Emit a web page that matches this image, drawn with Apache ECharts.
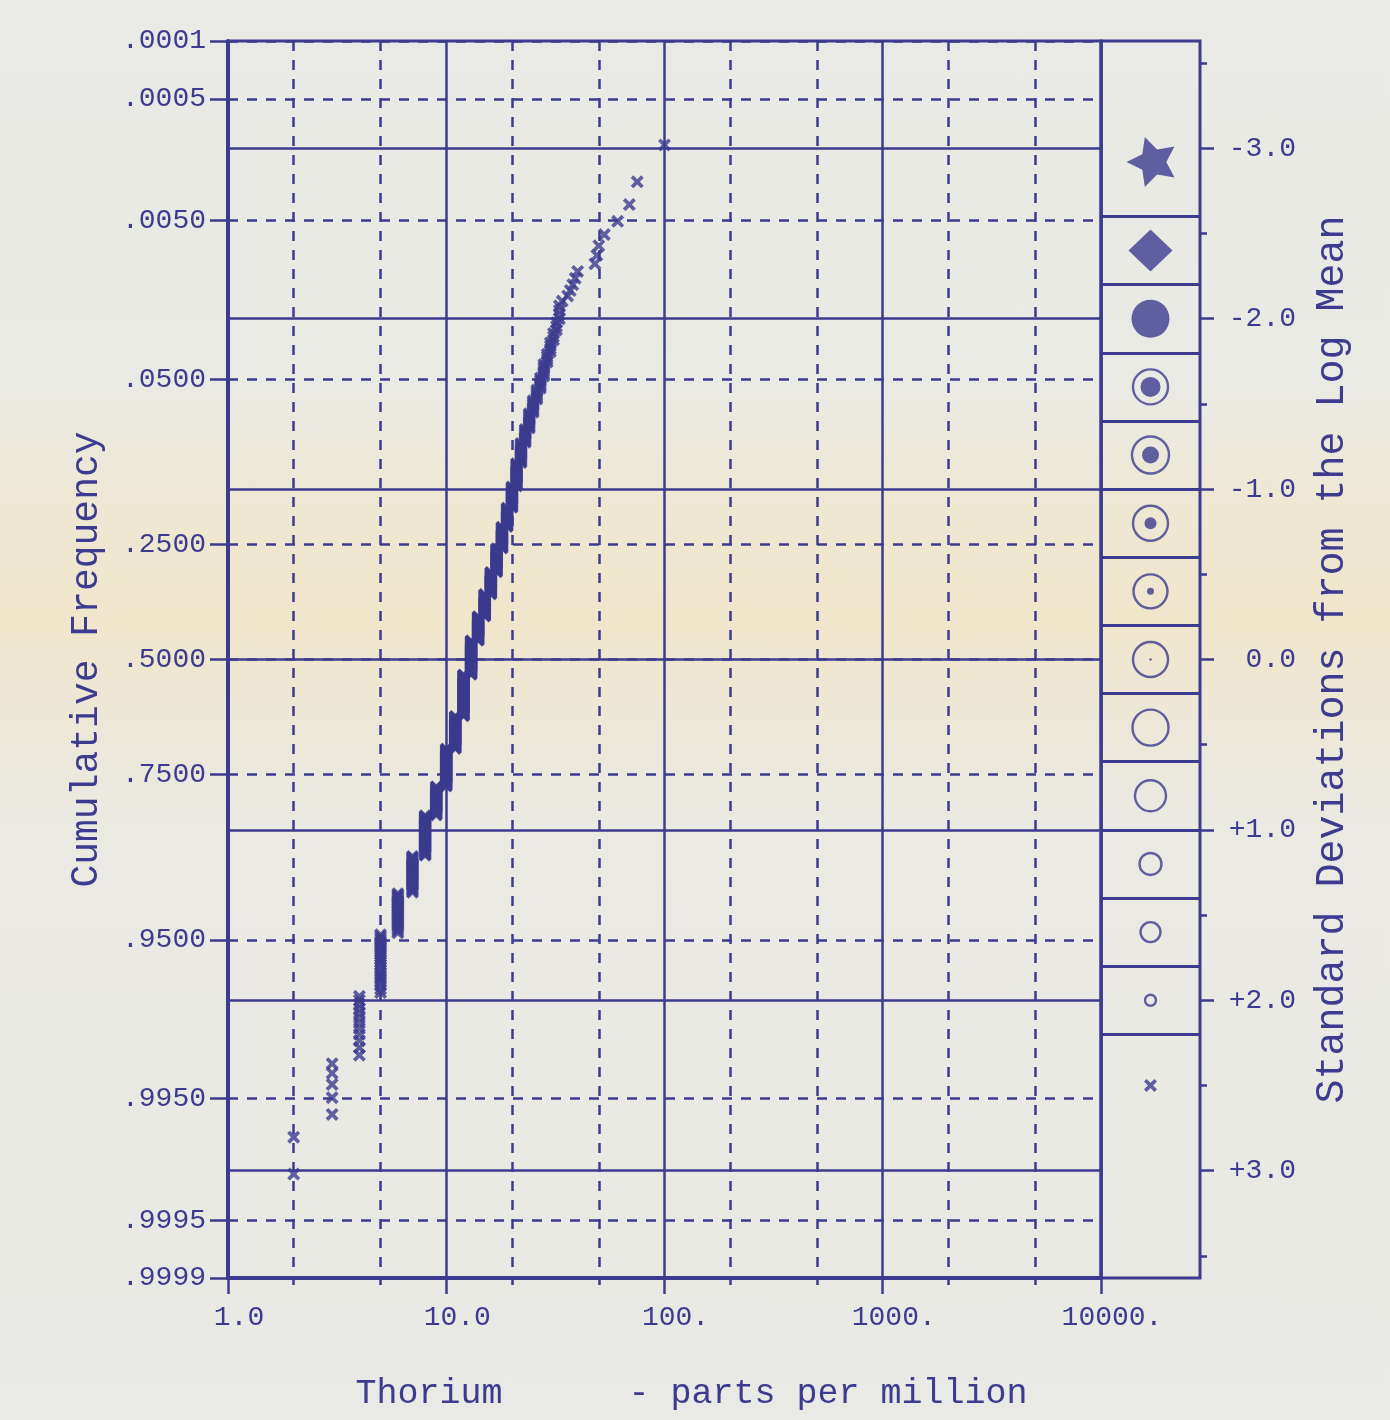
<!DOCTYPE html>
<html>
<head>
<meta charset="utf-8">
<script src="https://cdn.jsdelivr.net/npm/echarts@6/dist/echarts.min.js"></script>
<style>
html,body{margin:0;padding:0;}
#chart{width:1390px;height:1420px;
background:linear-gradient(to bottom,#e9e9e5 0%,#eaeae4 27%,#eee7d2 36%,#efe6cb 44%,#ede7d6 50%,#eae9e2 58%,#e9e9e5 100%);}
</style>
</head>
<body>
<div id="chart"></div>
<script>
// ---------------- data ----------------
// Thorium sample values (ppm), highest first, and how many samples share each value
const ppmValues = [100,75,69,61,53,50,49,48,40,39,38,37,36,34,
  33,32,31,30,29,28,27,26,25,24,23,22,21,20,19,18,17,16,15,14,13,
  12,11,10,9,8,7,6,5,4,3,2];
const sampleCounts = [1,1,1,1,1,1,1,1,1,1,1,1,1,1,
  4,3,3,4,4,6,6,6,8,11,11,18,24,25,25,31,37,37,39,44,63,
  75,55,57,38,44,31,25,23,12,5,2];

// axis ticks
const freqTicks  = [0.0001,0.0005,0.005,0.05,0.25,0.5,0.75,0.95,0.995,0.9995,0.9999];
const freqLabels = ['.0001','.0005','.0050','.0500','.2500','.5000','.7500','.9500','.9950','.9995','.9999'];
const sdTicks    = [-3,-2,-1,0,1,2,3];
const sdLabels   = ['-3.0','-2.0','-1.0','0.0','+1.0','+2.0','+3.0'];
const sdHalfTicks = [-3.5,-2.5,-1.5,-0.5,0.5,1.5,2.5,3.5];
const ppmTicks   = [1,10,100,1000,10000];
const ppmLabels  = ['1.0','10.0','100.','1000.','10000.'];
const ppmMinorTicks = [2,5,20,50,200,500,2000,5000];

// symbol legend (class limits and class centres in standard deviations)
const legendBreaks  = [-2.6,-2.2,-1.8,-1.4,-1.0,-0.6,-0.2,0.2,0.6,1.0,1.4,1.8,2.2];
const legendCenters = [-2.92,-2.4,-2.0,-1.6,-1.2,-0.8,-0.4,0.0,0.4,0.8,1.2,1.6,2.0,2.5];

// ---------------- styles ----------------
const INK = '#3c3b8f';
const FONT = '"Liberation Mono","DejaVu Sans Mono",monospace';
const Z_MIN = -3.63, Z_MAX = 3.63;
const XPATH = 'path://M0,2L2,0L5,3L8,0L10,2L7,5L10,8L8,10L5,7L2,10L0,8L3,5Z';
const STARPATH = 'path://M0,50L29.78,35.3L34.55,2.45L57.73,26.22L90.45,20.6L75,50L90.45,79.4L57.73,73.78L34.55,97.55L29.78,64.7Z';
const legendGlyphs = [
  {kind:'star', size:[48,50]},
  {kind:'diamond', size:[44,42]},
  {kind:'dot', size:38},
  {kind:'ringdot', ring:35, dot:20},
  {kind:'ringdot', ring:37, dot:17},
  {kind:'ringdot', ring:35, dot:12},
  {kind:'ringdot', ring:34, dot:7},
  {kind:'ringdot', ring:35, dot:2.5},
  {kind:'ring', ring:36},
  {kind:'ring', ring:31},
  {kind:'ring', ring:22},
  {kind:'ring', ring:20},
  {kind:'ring', ring:11},
  {kind:'x', size:13}
];

// ---------------- probability transform ----------------
function probit(p){
  const a=[-3.969683028665376e+01,2.209460984245205e+02,-2.759285104469687e+02,1.383577518672690e+02,-3.066479806614716e+01,2.506628277459239e+00];
  const b=[-5.447609879822406e+01,1.615858368580409e+02,-1.556989798598866e+02,6.680131188771972e+01,-1.328068155288572e+01];
  const c=[-7.784894002430293e-03,-3.223964580411365e-01,-2.400758277161838e+00,-2.549732539343734e+00,4.374664141464968e+00,2.938163982698783e+00];
  const d=[7.784695709041462e-03,3.224671290700398e-01,2.445134137142996e+00,3.754408661907416e+00];
  const pl=0.02425, ph=1-pl; let q,r;
  if(p<pl){q=Math.sqrt(-2*Math.log(p));return (((((c[0]*q+c[1])*q+c[2])*q+c[3])*q+c[4])*q+c[5])/((((d[0]*q+d[1])*q+d[2])*q+d[3])*q+1);}
  if(p<=ph){q=p-0.5;r=q*q;return (((((a[0]*r+a[1])*r+a[2])*r+a[3])*r+a[4])*r+a[5])*q/(((((b[0]*r+b[1])*r+b[2])*r+b[3])*r+b[4])*r+1);}
  q=Math.sqrt(-2*Math.log(1-p));return -(((((c[0]*q+c[1])*q+c[2])*q+c[3])*q+c[4])*q+c[5])/((((d[0]*q+d[1])*q+d[2])*q+d[3])*q+1);
}
const clampZ = z => Math.max(Z_MIN, Math.min(Z_MAX, z));

// cumulative frequency (plotting positions) of the sorted sample
const N = sampleCounts.reduce((s,c)=>s+c,0);
const points = [];
let rank = 0;
ppmValues.forEach((v,i)=>{
  for(let k=0;k<sampleCounts[i];k++){ rank++; points.push([v, probit(rank/(N+1))]); }
});

const freqZ = freqTicks.map(f=>clampZ(probit(f)));
const nearestIdx = (arr,v)=>{let bi=0,bd=Infinity;arr.forEach((a,i)=>{const d=Math.abs(a-v);if(d<bd){bd=d;bi=i;}});return bi;};

// ---------------- legend series ----------------
const legendSeries = [];
function addLegend(name, symbol, items, style){
  legendSeries.push({type:'scatter', name, xAxisIndex:2, yAxisIndex:2, symbol, silent:true,
    data: items, itemStyle: style, z:5});
}
const starItems=[],diamondItems=[],dotItems=[],ringItems=[],xItems=[];
legendCenters.forEach((z,i)=>{
  const g = legendGlyphs[i];
  if(g.kind==='star') starItems.push({value:[0.5,z], symbolSize:g.size});
  if(g.kind==='diamond') diamondItems.push({value:[0.5,z], symbolSize:g.size});
  if(g.kind==='dot') dotItems.push({value:[0.5,z], symbolSize:g.size});
  if(g.kind==='ringdot'){ ringItems.push({value:[0.5,z], symbolSize:g.ring}); dotItems.push({value:[0.5,z], symbolSize:g.dot}); }
  if(g.kind==='ring') ringItems.push({value:[0.5,z], symbolSize:g.ring});
  if(g.kind==='x') xItems.push({value:[0.5,z], symbolSize:g.size});
});
addLegend('star', STARPATH, starItems, {color:INK});
addLegend('diamond', 'diamond', diamondItems, {color:INK});
addLegend('dot', 'circle', dotItems, {color:INK});
addLegend('ring', 'circle', ringItems, {color:'rgba(0,0,0,0)', borderColor:INK, borderWidth:2.4});
addLegend('x', XPATH, xItems, {color:INK});

const labelStyle = {color:INK, fontFamily:FONT, fontSize:28};

const option = {
  backgroundColor:'transparent',
  animation:false,
  grid:[
    {left:228, top:41, width:873, height:1237, show:true, borderColor:INK, borderWidth:3, backgroundColor:'rgba(0,0,0,0)', containLabel:false, outerBoundsMode:'none'},
    {left:1101, top:41, width:99, height:1237, show:true, borderColor:INK, borderWidth:3, backgroundColor:'rgba(0,0,0,0)', containLabel:false, outerBoundsMode:'none'}
  ],
  xAxis:[
    {type:'log', logBase:10, min:1, max:10000, splitNumber:4, gridIndex:0, position:'bottom',
     axisLine:{show:true, onZero:false, lineStyle:{color:INK, width:4}},
     axisTick:{show:true, length:16, lineStyle:{color:INK, width:2.5}},
     minorTick:{show:false}, minorSplitLine:{show:false},
     axisLabel:{show:true, margin:26, ...labelStyle, padding:[0,0,0,22],
       formatter:v=>ppmLabels[nearestIdx(ppmTicks.map(Math.log10), Math.log10(v))]},
     splitLine:{show:true, lineStyle:{color:INK, width:2.5}},
     name:'Thorium      - parts per million', nameLocation:'middle', nameGap:98,
     nameTextStyle:{color:INK, fontFamily:FONT, fontSize:35, padding:[0,0,0,54]}
    },
    {type:'value', min:0, max:4, gridIndex:0, position:'bottom',
     axisLine:{show:false, onZero:false},
     axisTick:{show:true, length:7, customValues:ppmMinorTicks.map(Math.log10), lineStyle:{color:INK, width:2.5}},
     axisLabel:{show:false},
     splitLine:{show:true, lineStyle:{color:INK, width:2.5, type:[10,9]}}
    },
    {type:'value', min:0, max:1, gridIndex:1, show:false}
  ],
  yAxis:[
    {type:'value', gridIndex:0, position:'left', min:Z_MIN, max:Z_MAX, inverse:true,
     axisLine:{show:true, onZero:false, lineStyle:{color:INK, width:4}},
     axisTick:{show:true, length:18, customValues:freqZ, lineStyle:{color:INK, width:2.5}},
     axisLabel:{show:true, margin:22, customValues:freqZ, ...labelStyle,
       formatter:v=>freqLabels[nearestIdx(freqZ, v)]},
     splitLine:{show:true, lineStyle:{color:INK, width:2.5, type:[10,9]}},
     name:'Cumulative Frequency', nameLocation:'middle', nameRotate:90, nameGap:122,
     nameTextStyle:{color:INK, fontFamily:FONT, fontSize:38}
    },
    {type:'value', gridIndex:0, position:'right', min:Z_MIN, max:Z_MAX, inverse:true,
     axisLine:{show:false, onZero:false},
     axisTick:{show:false, customValues:sdTicks},
     axisLabel:{show:false},
     splitLine:{show:true, lineStyle:{color:INK, width:2.5}}
    },
    {type:'value', gridIndex:1, position:'right', min:Z_MIN, max:Z_MAX, inverse:true,
     axisLine:{show:false, onZero:false},
     axisTick:{show:true, length:14, customValues:sdTicks, lineStyle:{color:INK, width:2.5}},
     axisLabel:{show:true, customValues:sdTicks, margin:96, align:'right', ...labelStyle,
       formatter:v=>sdLabels[nearestIdx(sdTicks, v)]},
     splitLine:{show:false},
     name:'Standard Deviations from the Log Mean', nameLocation:'middle', nameRotate:90, nameGap:112,
     nameTextStyle:{color:INK, fontFamily:FONT, fontSize:40}
    },
    {type:'value', gridIndex:1, position:'right', min:Z_MIN, max:Z_MAX, inverse:true,
     axisLine:{show:false, onZero:false},
     axisTick:{show:true, length:7, customValues:sdHalfTicks, lineStyle:{color:INK, width:2.5}},
     axisLabel:{show:false},
     splitLine:{show:false}
    },
    {type:'value', gridIndex:1, position:'right', min:Z_MIN, max:Z_MAX, inverse:true,
     axisLine:{show:false, onZero:false},
     axisTick:{show:false, customValues:legendBreaks},
     axisLabel:{show:false},
     splitLine:{show:true, lineStyle:{color:INK, width:3}}
    }
  ],
  series:[
    {type:'scatter', name:'Thorium', xAxisIndex:0, yAxisIndex:0, data:points,
     symbol:XPATH, symbolSize:13, itemStyle:{color:INK}, silent:true, z:4},
    ...legendSeries
  ]
};

const chart = echarts.init(document.getElementById('chart'), null, {renderer:'canvas'});
chart.setOption(option);
</script>
</body>
</html>
